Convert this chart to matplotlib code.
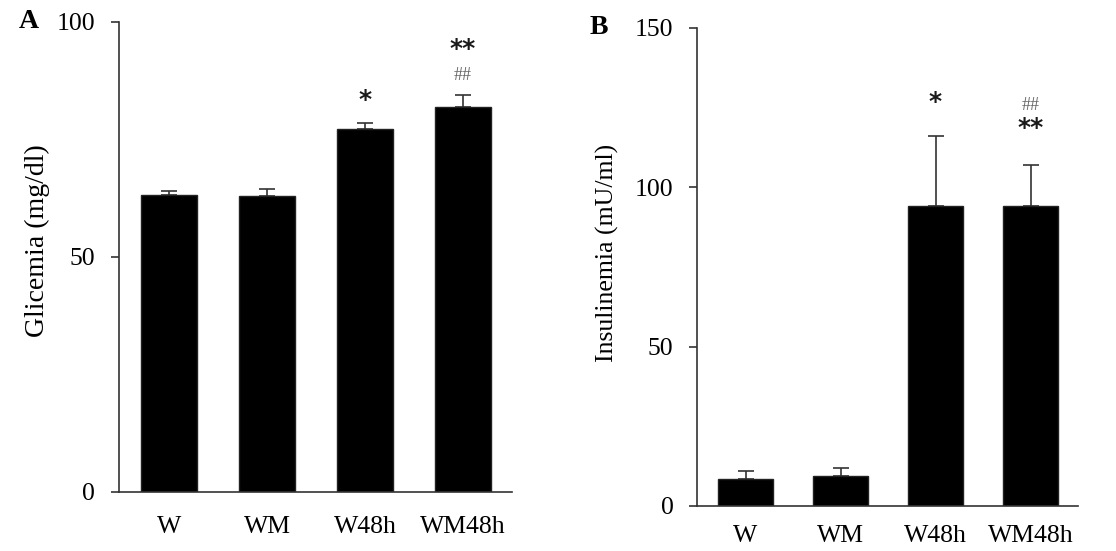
import matplotlib
matplotlib.use("Agg")
import matplotlib.pyplot as plt

# datos
grupos = ["W", "WM", "W48h", "WM48h"]
glicemia = [63.2, 63.0, 77.2, 82.0]
glicemia_err = [0.8, 1.4, 1.4, 2.5]
insulinemia = [8.5, 9.3, 94.1, 94.1]
insulinemia_err = [2.6, 2.5, 22.1, 12.8]

# marcas de significancia (texto, grupo, altura)
sig_a = [("*", 2, 83.4), ("**", 3, 94.3)]
hash_a = [("##", 3, 88.7)]
sig_b = [("*", 2, 130.5), ("**", 3, 122.4)]
hash_b = [("##", 3, 124.4)]

plt.rcParams["font.family"] = ["Liberation Serif", "DejaVu Serif"]

fig = plt.figure(figsize=(11.16, 5.51), dpi=100)
ax1 = fig.add_axes([0.1066, 0.1071, 0.3522, 0.853])
ax2 = fig.add_axes([0.6246, 0.0817, 0.3414, 0.8675])

x = list(range(len(grupos)))


def panel(ax, vals, errs, ylim, yticks, ylabel, ysize, xpad, sig, hashes, letra, lx,
          sig_va, hash_va):
    ax.bar(x, vals, width=0.57, color="black", edgecolor="#222222", linewidth=1, zorder=2)
    ax.errorbar(x, vals, yerr=[[0] * len(errs), errs], fmt="none", ecolor="#333333",
                elinewidth=1.2, capsize=5.5, capthick=1.2, zorder=1)
    ax.set_xlim(-0.51, 3.5)
    ax.set_ylim(*ylim)
    ax.set_yticks(yticks)
    ax.set_xticks(x)
    ax.set_xticklabels(grupos)
    for s in ["top", "right"]:
        ax.spines[s].set_visible(False)
    for s in ["left", "bottom"]:
        ax.spines[s].set_color("#333333")
        ax.spines[s].set_linewidth(1.2)
    ax.tick_params(axis="y", length=6, width=1.2, color="#333333", labelsize=18.5, pad=11)
    ax.tick_params(axis="x", length=0, labelsize=18.5, pad=xpad)
    ax.set_ylabel(ylabel, fontsize=ysize)
    for txt, i, h in sig:
        ax.text(i, h, txt, ha="center", va=sig_va, fontsize=18, fontweight="bold",
                family="DejaVu Sans", color="#1a1a1a")
    for txt, i, h in hashes:
        ax.text(i, h, txt, ha="center", va=hash_va, fontsize=13, color="#666666")
    ax.text(lx, 1.0, letra, transform=ax.transAxes, fontsize=20, fontweight="bold",
            ha="left", va="center")


panel(ax1, glicemia, glicemia_err, (0, 100), [0, 50, 100], "Glicemia (mg/dl)", 20, 17,
      sig_a, hash_a, "A", -0.255, "center", "center")
panel(ax2, insulinemia, insulinemia_err, (0, 150), [0, 50, 100, 150], "Insulinemia (mU/ml)",
      18.5, 13.5, sig_b, hash_b, "B", -0.281, "top", "baseline")
ax1.yaxis.set_label_coords(-0.176, 0.534)
ax2.yaxis.set_label_coords(-0.205, 0.529)

fig.savefig("out.png", dpi=100)
